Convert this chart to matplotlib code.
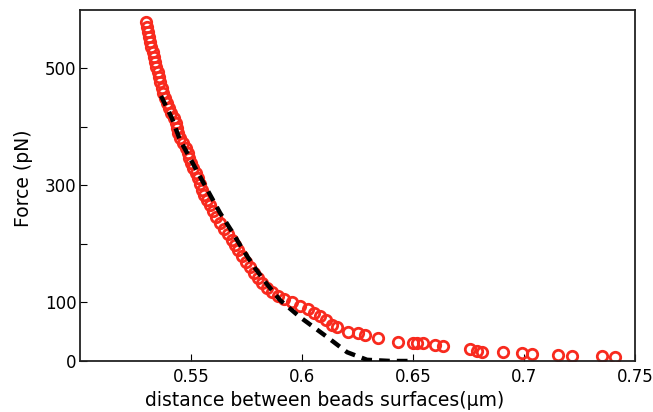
import matplotlib
matplotlib.use('Agg')
import matplotlib.pyplot as plt

plt.rcParams['font.family'] = ['DejaVu Sans']

# measured force vs distance (red open circles)
dist = [0.5297, 0.5302, 0.5306, 0.5311, 0.5315, 0.5320, 0.5329, 0.5333, 0.5338, 0.5342,
        0.5351, 0.5356, 0.5360, 0.5369, 0.5374, 0.5383, 0.5392, 0.5401, 0.5410, 0.5423,
        0.5432, 0.5437, 0.5441, 0.5450, 0.5464, 0.5477, 0.5486, 0.5491, 0.5500, 0.5509,
        0.5523, 0.5532, 0.5541, 0.5550, 0.5559, 0.5572, 0.5586, 0.5599, 0.5613, 0.5631,
        0.5649, 0.5667, 0.5685, 0.5698, 0.5712, 0.5730, 0.5748, 0.5766, 0.5784, 0.5802,
        0.5820, 0.5842, 0.5865, 0.5892, 0.5919, 0.5955, 0.5991, 0.6027, 0.6054, 0.6081,
        0.6108, 0.6135, 0.6158, 0.6207, 0.6252, 0.6284, 0.6342, 0.6432, 0.6500, 0.6518,
        0.6545, 0.6600, 0.6635, 0.6757, 0.6788, 0.6811, 0.6905, 0.6991, 0.7036, 0.7153,
        0.7216, 0.7351, 0.7410]
force = [579, 571, 562, 554, 545, 537, 528, 520, 511, 503,
         494, 485, 477, 467, 458, 450, 441, 432, 424, 415,
         407, 398, 390, 381, 373, 364, 356, 347, 338, 330,
         321, 313, 303, 292, 284, 275, 267, 256, 246, 236,
         226, 217, 207, 198, 190, 179, 169, 161, 150, 142,
         133, 125, 118, 111, 106, 101, 94, 89, 82, 77,
         70, 62, 58, 50, 48, 44, 39, 32, 31, 31,
         31, 27, 26, 20, 17, 15, 15, 14, 12, 10,
         9, 9, 7]

# model curve (black dashed)
fit_x = [0.5365, 0.5414, 0.5450, 0.5495, 0.5541, 0.5586, 0.5631, 0.5685, 0.5734, 0.5788,
         0.5845, 0.5901, 0.5991, 0.6113, 0.6203, 0.6293, 0.6400, 0.6500]
fit_y = [453, 415, 378, 347, 315, 284, 253, 221, 190, 159,
         130, 104, 75, 41, 15, 2, 0, 0]

fig = plt.figure(figsize=(6.53, 4.12), dpi=100)
ax = fig.add_axes([0.1225, 0.1238, 0.85, 0.852])

ax.plot(dist, force, linestyle='none', marker='o', markersize=7.5,
        markerfacecolor='none', markeredgecolor='#f82a1e', markeredgewidth=2.0, zorder=2)
ax.plot(fit_x, fit_y, color='black', linewidth=3.2, linestyle=(0, (2.4, 1.6)), zorder=3)

ax.set_xlim(0.5, 0.75)
ax.set_ylim(0, 600)
ax.set_xticks([0.55, 0.6, 0.65, 0.7, 0.75])
ax.set_xticklabels(['0.55', '0.6', '0.65', '0.7', '0.75'])
ax.set_yticks([0, 100, 200, 300, 400, 500])
ax.set_yticklabels(['0', '100', '', '300', '', '500'])
ax.tick_params(direction='in', length=5, width=0.8, labelsize=12, colors='black')
ax.tick_params(axis='y', pad=2.5)
ax.tick_params(axis='x', pad=5)

for s in ax.spines.values():
    s.set_linewidth(1.3)
    s.set_color('#222222')

ax.set_xlabel('distance between beads surfaces(\u03bcm)', fontsize=13.5)
ax.xaxis.set_label_coords(0.44, -0.085)
ax.set_ylabel('Force (pN)', fontsize=13.5)
ax.yaxis.set_label_coords(-0.085, 0.52)

fig.savefig('out.png', dpi=100)
